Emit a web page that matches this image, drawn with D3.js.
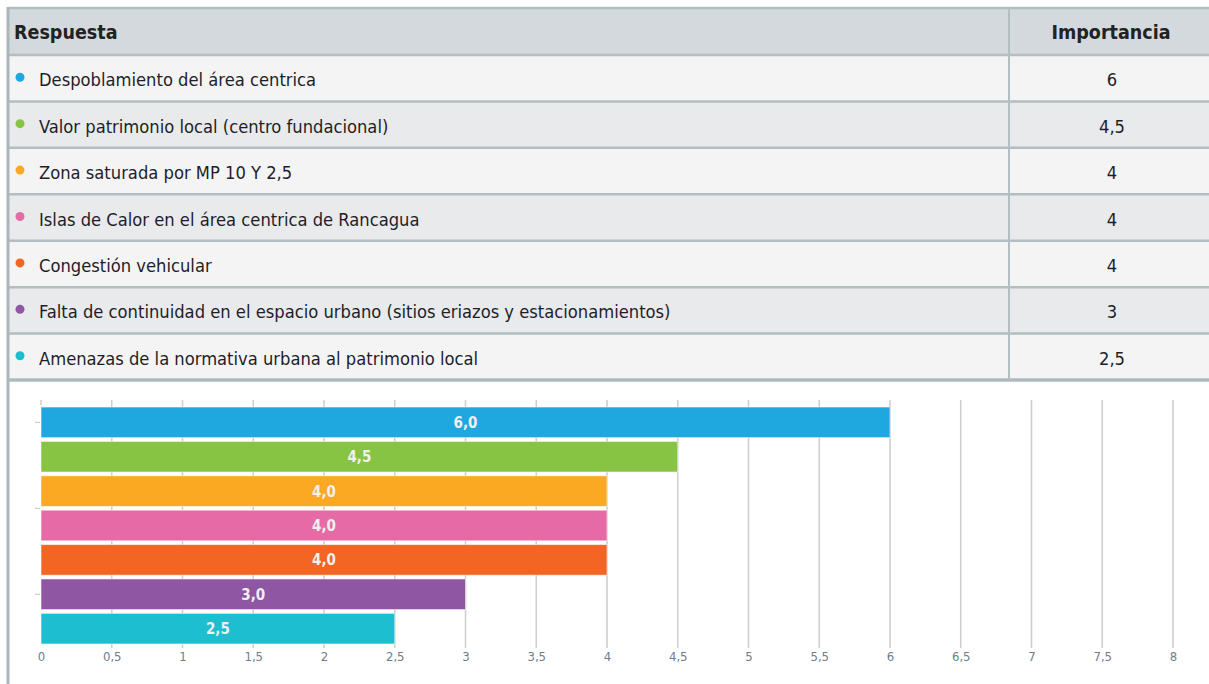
<!DOCTYPE html>
<html>
<head>
<meta charset="utf-8">
<script src="https://cdn.jsdelivr.net/npm/d3@7"></script>
<style>
  html, body { margin: 0; padding: 0; background: #fff; }
  svg { display: block; }
  .cond { font-family: "Liberation Sans Narrow", "DejaVu Sans Condensed", "Roboto", sans-serif; }
</style>
</head>
<body>
<svg id="chart" width="1209" height="684"></svg>
<script>
// Respuestas y su importancia
const respuestas = [
  "Despoblamiento del área centrica",
  "Valor patrimonio local (centro fundacional)",
  "Zona saturada por MP 10 Y 2,5",
  "Islas de Calor en el área centrica de Rancagua",
  "Congestión vehicular",
  "Falta de continuidad en el espacio urbano (sitios eriazos y estacionamientos)",
  "Amenazas de la normativa urbana al patrimonio local"
];
const importancia = [6, 4.5, 4, 4, 4, 3, 2.5];
const importanciaTexto = ["6", "4,5", "4", "4", "4", "3", "2,5"];
const colores = ["#1fa8df", "#88c444", "#fba823", "#e56aa6", "#f26522", "#8e56a3", "#1dbecf"];
const encabezados = ["Respuesta", "Importancia"];
const ticksX = d3.range(0, 8.01, 0.5);

const svg = d3.select("#chart");
const fmt = v => String(v).replace(".", ",");
const fmt1 = v => v.toFixed(1).replace(".", ",");

// ---------- Tabla ----------
const tableLeft = 8, tableRight = 1215, colSplit = 1009;
const headerTop = 8, headerBottom = 55, tableBottom = 380;
const rowY = d3.scaleBand().domain(d3.range(respuestas.length)).range([headerBottom, tableBottom]);

const table = svg.append("g");
table.append("rect").attr("x", tableLeft).attr("y", headerTop)
  .attr("width", tableRight - tableLeft).attr("height", headerBottom - headerTop)
  .attr("fill", "#d3d9dc");
table.selectAll("rect.row").data(respuestas).join("rect").attr("class", "row")
  .attr("x", tableLeft).attr("y", (d, i) => rowY(i))
  .attr("width", tableRight - tableLeft).attr("height", rowY.bandwidth())
  .attr("fill", (d, i) => i % 2 === 0 ? "#f4f4f4" : "#e8eaeb");

// líneas horizontales
const hLines = [headerTop, headerBottom].concat(d3.range(1, respuestas.length).map(i => rowY(i)));
table.selectAll("line.h").data(hLines).join("line").attr("class", "h")
  .attr("x1", tableLeft).attr("x2", tableRight)
  .attr("y1", d => d).attr("y2", d => d)
  .attr("stroke", "#b2bec2").attr("stroke-width", 2.5);
table.append("line").attr("x1", tableLeft).attr("x2", tableRight)
  .attr("y1", tableBottom).attr("y2", tableBottom)
  .attr("stroke", "#aebabe").attr("stroke-width", 3.5);
table.append("line").attr("x1", colSplit).attr("x2", colSplit)
  .attr("y1", headerTop).attr("y2", tableBottom)
  .attr("stroke", "#b2bec2").attr("stroke-width", 2);
// borde izquierdo continúa hasta el pie
svg.append("line").attr("x1", tableLeft).attr("x2", tableLeft)
  .attr("y1", headerTop - 1).attr("y2", 684)
  .attr("stroke", "#aab6ba").attr("stroke-width", 3);

// encabezados
table.append("text").attr("class", "cond").attr("x", 14).attr("y", (headerTop + headerBottom) / 2 + 7)
  .attr("font-size", 19.5).attr("font-weight", "bold").attr("fill", "#222")
  .text(encabezados[0]);
table.append("text").attr("class", "cond").attr("x", 1111).attr("y", (headerTop + headerBottom) / 2 + 7)
  .attr("text-anchor", "middle").attr("font-size", 19.5).attr("font-weight", "bold").attr("fill", "#222")
  .text(encabezados[1]);

// filas
const rows = table.selectAll("g.r").data(respuestas).join("g").attr("class", "r")
  .attr("transform", (d, i) => `translate(0,${rowY(i) + rowY.bandwidth() / 2})`);
rows.append("circle").attr("cx", 20).attr("cy", -1).attr("r", 4.5)
  .attr("fill", (d, i) => colores[i]);
rows.append("text").attr("class", "cond").attr("x", 39).attr("y", 8)
  .attr("font-size", 18.2).attr("fill", "#1e1e2a").text(d => d);
rows.append("text").attr("class", "cond").attr("x", 1112).attr("y", 8)
  .attr("text-anchor", "middle").attr("font-size", 18.2).attr("fill", "#1e1e2a")
  .text((d, i) => importanciaTexto[i]);

// ---------- Gráfico de barras ----------
const x = d3.scaleLinear().domain([0, 8]).range([41, 1173]);
const y = d3.scaleBand().domain(d3.range(respuestas.length)).range([406, 645]).paddingInner(0.11).paddingOuter(0.03);
const gridTop = 400, gridBottom = 648;

const chart = svg.append("g");
chart.selectAll("line.grid").data(ticksX).join("line").attr("class", "grid")
  .attr("x1", d => x(d)).attr("x2", d => x(d))
  .attr("y1", gridTop).attr("y2", d => d === 0 ? gridTop + 5 : gridBottom)
  .attr("stroke", "#cfcfcf").attr("stroke-width", 1.6);

// marcas del eje vertical
const yTicks = [y(0) + y.bandwidth() / 2, y(0) + y.bandwidth() / 2 + y.step() * 2.5, y(0) + y.bandwidth() / 2 + y.step() * 5];
chart.selectAll("line.yt").data(yTicks).join("line").attr("class", "yt")
  .attr("x1", 35).attr("x2", 40).attr("y1", d => d).attr("y2", d => d)
  .attr("stroke", "#b8c2ca").attr("stroke-width", 1);

chart.selectAll("rect.bar").data(importancia).join("rect").attr("class", "bar")
  .attr("x", x(0)).attr("y", (d, i) => y(i))
  .attr("width", d => x(d) - x(0)).attr("height", y.bandwidth())
  .attr("fill", (d, i) => colores[i])
  .attr("stroke", "rgba(255,255,255,0.55)").attr("stroke-width", 1);

chart.selectAll("text.val").data(importancia).join("text").attr("class", "val cond")
  .attr("x", d => (x(0) + x(d)) / 2).attr("y", (d, i) => y(i) + y.bandwidth() / 2 + 5.5)
  .attr("text-anchor", "middle").attr("font-size", 15).attr("font-weight", "bold")
  .attr("fill", "#f0f0f0").text(d => fmt1(d));

// eje X
const xAxis = d3.axisBottom(x).tickValues(ticksX).tickSize(0).tickPadding(0).tickFormat(fmt);
const gx = chart.append("g").attr("transform", `translate(0,${gridBottom + 4})`).call(xAxis);
gx.select(".domain").remove();
gx.selectAll("text").attr("class", "cond").attr("font-size", 13).attr("fill", "#6f7d8c");
</script>
</body>
</html>
